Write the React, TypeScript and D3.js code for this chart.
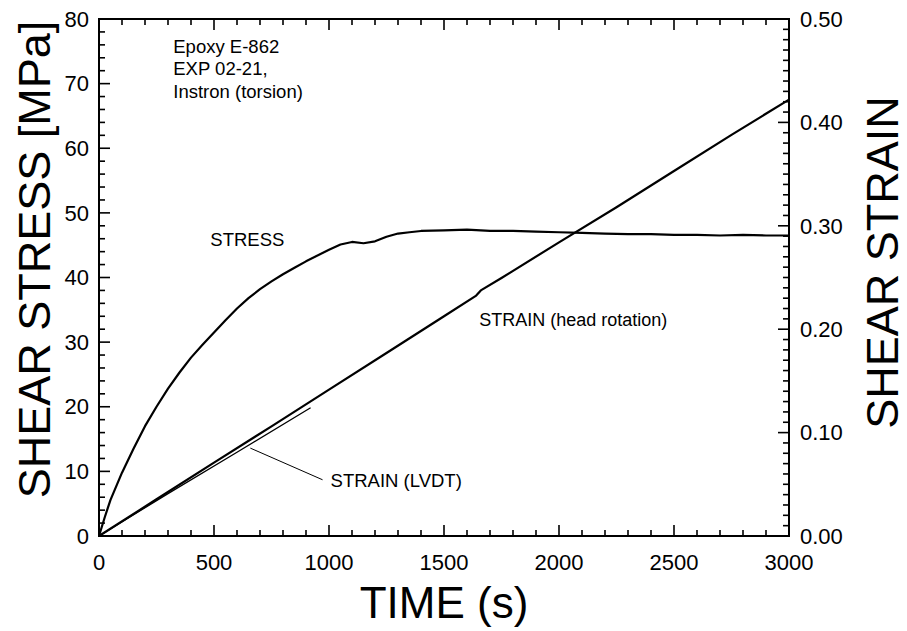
import * as d3 from "d3";

// stress curve: [time s, shear stress MPa]
const stressTime = [0, 25, 50, 100, 150, 200, 250, 300, 350, 400, 450, 500, 550, 600, 650, 700, 750, 800, 850, 900, 950, 1000, 1050, 1100, 1150, 1200, 1250, 1300, 1350, 1400, 1500, 1600, 1700, 1800, 1900, 2000, 2100, 2200, 2300, 2400, 2500, 2600, 2700, 2800, 2900, 3000];
const stressValue = [0, 2.9, 5.6, 9.8, 13.5, 17, 20, 22.8, 25.3, 27.6, 29.6, 31.5, 33.4, 35.2, 36.8, 38.2, 39.4, 40.5, 41.5, 42.5, 43.4, 44.3, 45.1, 45.5, 45.3, 45.6, 46.3, 46.8, 47.0, 47.2, 47.3, 47.4, 47.2, 47.2, 47.1, 47.0, 46.9, 46.8, 46.7, 46.7, 46.6, 46.6, 46.5, 46.6, 46.5, 46.5];

// strain from head rotation: [time s, shear strain]
const headTime = [0, 250, 500, 750, 1000, 1250, 1500, 1640, 1660, 1750, 2000, 2250, 2500, 2750, 3000];
const headStrain = [0, 0.0355, 0.071, 0.106, 0.1415, 0.177, 0.2125, 0.2325, 0.2375, 0.2495, 0.284, 0.318, 0.353, 0.388, 0.422];

// strain from LVDT
const lvdtTime = [0, 300, 600, 920];
const lvdtStrain = [0, 0.041, 0.081, 0.124];

const xTicks = [0, 500, 1000, 1500, 2000, 2500, 3000];
const yLeftTicks = [0, 10, 20, 30, 40, 50, 60, 70, 80];
const yRightTicks = [0, 0.1, 0.2, 0.3, 0.4, 0.5];

const infoLines = ["Epoxy E-862", "EXP 02-21,", "Instron (torsion)"];

const W = 907;
const H = 631;
const L = 99, R = 789, T = 19, B = 536;
const font = "'Liberation Sans', Arial, Helvetica, sans-serif";

export default function App() {
  const x = d3.scaleLinear([0, 3000], [L, R]);
  const yL = d3.scaleLinear([0, 80], [B, T]);
  const yR = d3.scaleLinear([0, 0.5], [B, T]);

  const stressLine = d3.line<number>().x((d, i) => x(stressTime[i])).y((d) => yL(d));
  const headLine = d3.line<number>().x((d, i) => x(headTime[i])).y((d) => yR(d));
  const lvdtLine = d3.line<number>().x((d, i) => x(lvdtTime[i])).y((d) => yR(d));

  const xMinor = d3.range(0, 3001, 100);
  const yLMinor = d3.range(0, 81, 2);
  const yRMinor = d3.range(0, 51, 1).map((v) => v / 100);
  const major = 11;
  const minor = 6;

  return (
    <svg width={W} height={H} style={{ position: "absolute", left: 0, top: 0, background: "#fff" }} fontFamily={font}>
      <rect x={0} y={0} width={W} height={H} fill="#fff" />
      {/* ticks bottom/top */}
      {xMinor.map((v) => {
        const len = v % 500 === 0 ? major : minor;
        return (
          <g key={"x" + v} stroke="#000" strokeWidth={1.6}>
            <line x1={x(v)} x2={x(v)} y1={B} y2={B - len} />
            <line x1={x(v)} x2={x(v)} y1={T} y2={T + len} />
          </g>
        );
      })}
      {yLMinor.map((v) => (
        <line key={"yl" + v} stroke="#000" strokeWidth={1.6} x1={L} x2={L + (v % 10 === 0 ? major : minor)} y1={yL(v)} y2={yL(v)} />
      ))}
      {yRMinor.map((v, i) => (
        <line key={"yr" + i} stroke="#000" strokeWidth={1.6} x1={R} x2={R - (i % 10 === 0 ? major : minor)} y1={yR(v)} y2={yR(v)} />
      ))}
      <rect x={L} y={T} width={R - L} height={B - T} fill="none" stroke="#000" strokeWidth={2} />

      {/* tick labels */}
      {xTicks.map((v) => (
        <text key={"xt" + v} x={x(v)} y={B + 34} fontSize={22} textAnchor="middle">{v}</text>
      ))}
      {yLeftTicks.map((v) => (
        <text key={"ylt" + v} x={L - 10} y={yL(v)} dy="0.35em" fontSize={22} textAnchor="end">{v}</text>
      ))}
      {yRightTicks.map((v) => (
        <text key={"yrt" + v} x={R + 11} y={yR(v)} dy="0.35em" fontSize={22} textAnchor="start">{v.toFixed(2)}</text>
      ))}

      {/* axis titles */}
      <text x={(L + R) / 2} y={618} fontSize={44} textAnchor="middle">TIME (s)</text>
      <text transform={`translate(50,${(T + B) / 2 - 18}) rotate(-90)`} fontSize={45} textAnchor="middle">SHEAR STRESS [MPa]</text>
      <text transform={`translate(898,${(T + B) / 2 - 15}) rotate(-90)`} fontSize={45} textAnchor="middle">SHEAR STRAIN</text>

      {/* data */}
      <path d={stressLine(stressValue) ?? ""} fill="none" stroke="#000" strokeWidth={2.2} strokeLinejoin="round" />
      <path d={headLine(headStrain) ?? ""} fill="none" stroke="#000" strokeWidth={2.2} strokeLinejoin="round" />
      <path d={lvdtLine(lvdtStrain) ?? ""} fill="none" stroke="#000" strokeWidth={1.3} />

      {/* annotations */}
      <line x1={x(658)} y1={yL(13.6)} x2={x(972)} y2={yL(8.7)} stroke="#000" strokeWidth={1} />
      <text x={x(484)} y={yL(44.9)} fontSize={18.5}>STRESS</text>
      <text x={x(1653)} y={yL(32.5)} fontSize={18}>STRAIN (head rotation)</text>
      <text x={x(1007)} y={yL(7.6)} fontSize={18.5}>STRAIN (LVDT)</text>
      {infoLines.map((s, i) => (
        <text key={s} x={x(323)} y={yL(74.8) + i * 22.5} fontSize={18.5}>{s}</text>
      ))}
    </svg>
  );
}
